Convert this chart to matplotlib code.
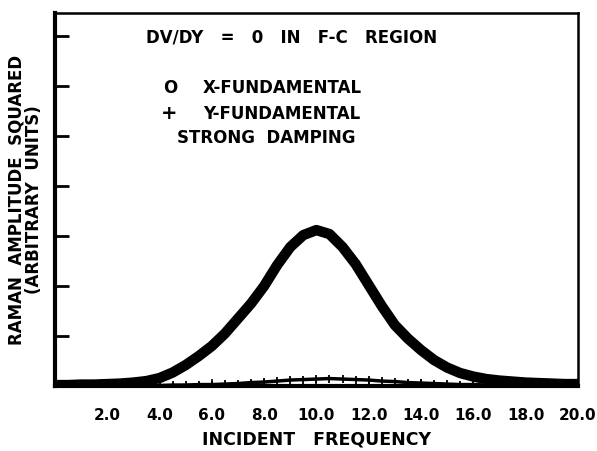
import matplotlib.pyplot as plt

freq = [0.0, 0.5, 1.0, 1.5, 2.0, 2.5, 3.0, 3.5, 4.0, 4.5, 5.0, 5.5, 6.0, 6.5,
        7.0, 7.5, 8.0, 8.5, 9.0, 9.5, 10.0, 10.5, 11.0, 11.5, 12.0, 12.5,
        13.0, 13.5, 14.0, 14.5, 15.0, 15.5, 16.0, 16.5, 17.0, 17.5, 18.0,
        18.5, 19.0, 19.5, 20.0]
x_fund = [0.02, 0.02, 0.03, 0.03, 0.04, 0.05, 0.07, 0.10, 0.16, 0.27, 0.42,
          0.60, 0.80, 1.05, 1.35, 1.65, 2.00, 2.42, 2.78, 3.02, 3.12, 3.04,
          2.78, 2.44, 2.02, 1.60, 1.22, 0.95, 0.72, 0.52, 0.37, 0.26, 0.19,
          0.14, 0.11, 0.09, 0.07, 0.06, 0.05, 0.04, 0.04]
y_fund = [0.01, 0.01, 0.01, 0.01, 0.01, 0.01, 0.01, 0.01, 0.01, 0.02, 0.02,
          0.03, 0.03, 0.04, 0.05, 0.07, 0.08, 0.10, 0.12, 0.13, 0.14, 0.15,
          0.14, 0.13, 0.12, 0.10, 0.09, 0.07, 0.06, 0.05, 0.04, 0.03, 0.03,
          0.02, 0.02, 0.02, 0.02, 0.02, 0.02, 0.02, 0.02]
xticks = [2, 4, 6, 8, 10, 12, 14, 16, 18, 20]
xticklabels = ["2.0", "4.0", "6.0", "8.0", "10.0", "12.0", "14.0", "16.0",
               "18.0", "20.0"]
yticks = [1, 2, 3, 4, 5, 6, 7]

plt.rcParams["font.family"] = ["DejaVu Sans"]

fig = plt.figure(figsize=(5.97, 4.51), dpi=100)
ax = fig.add_axes([0.092, 0.144, 0.876, 0.827])

ax.plot(freq, x_fund, color="black", lw=7.5, solid_capstyle="round",
        solid_joinstyle="round", zorder=3)
ax.plot(freq, y_fund, color="black", lw=2.5, marker="+", ms=6, mew=1.3,
        zorder=2)

ax.set_xlim(0, 20)
ax.set_ylim(0, 7.46)
ax.set_xticks(xticks)
ax.set_xticklabels(xticklabels, fontsize=11, fontweight="bold")
ax.set_yticks(yticks)
ax.set_yticklabels([])
ax.tick_params(axis="x", direction="in", length=5, width=1.2, pad=16)
ax.tick_params(axis="y", direction="in", length=10, width=2)

for side in ["left", "bottom"]:
    ax.spines[side].set_linewidth(3)
for side in ["top", "right"]:
    ax.spines[side].set_linewidth(1.8)

ax.set_xlabel("INCIDENT   FREQUENCY", fontsize=12.5,
              fontweight="bold", labelpad=5)
ax.set_ylabel("RAMAN  AMPLITUDE  SQUARED\n(ARBITRARY  UNITS)", fontsize=12,
              fontweight="bold", linespacing=0.95, labelpad=5)

ax.text(0.453, 0.935, "DV/DY   =   0   IN   F-C   REGION",
        transform=ax.transAxes, ha="center", va="center", fontsize=12,
        fontweight="bold")
ax.text(0.22, 0.80, "O", transform=ax.transAxes, ha="center", va="center",
        fontsize=12, fontweight="bold")
ax.text(0.283, 0.80, "X-FUNDAMENTAL", transform=ax.transAxes, ha="left",
        va="center", fontsize=12, fontweight="bold")
ax.text(0.218, 0.73, "+", transform=ax.transAxes, ha="center", va="center",
        fontsize=14, fontweight="bold")
ax.text(0.283, 0.73, "Y-FUNDAMENTAL", transform=ax.transAxes, ha="left",
        va="center", fontsize=12, fontweight="bold")
ax.text(0.234, 0.664, "STRONG  DAMPING", transform=ax.transAxes, ha="left",
        va="center", fontsize=12, fontweight="bold")

fig.savefig("out.png", dpi=100)
